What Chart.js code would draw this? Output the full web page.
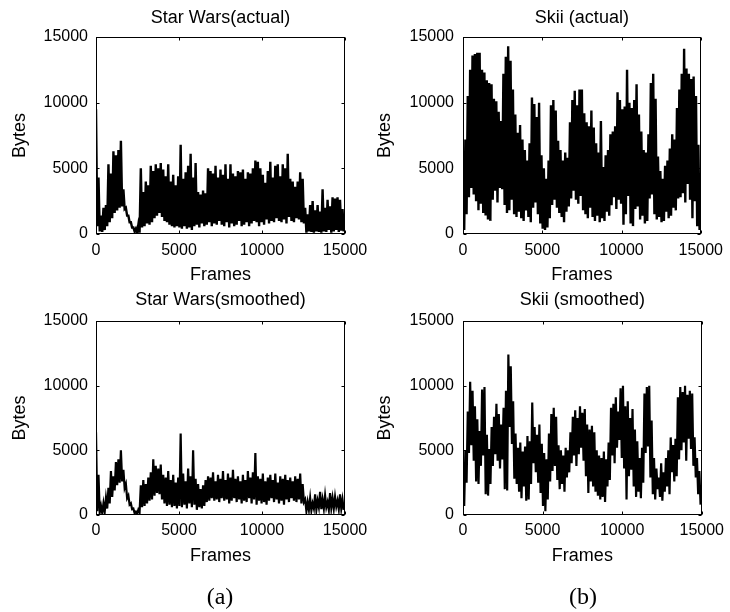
<!DOCTYPE html>
<html><head><meta charset="utf-8">
<script src="https://cdn.jsdelivr.net/npm/chart.js@4"></script>
<style>
html,body{margin:0;padding:0;background:#fff;}
#wrap{position:relative;width:730px;height:612px;overflow:hidden;background:#fff;}
canvas{position:absolute;}
.lab{position:absolute;font-family:"Liberation Serif","Times New Roman",serif;font-size:24px;color:#000;transform:translate(-50%,-50%);white-space:nowrap;}
</style></head><body>
<div id="wrap">
<canvas id="c1" width="390" height="290" style="left:0;top:0;width:390px;height:290px"></canvas>
<canvas id="c2" width="365" height="290" style="left:365px;top:0;width:365px;height:290px"></canvas>
<canvas id="c3" width="390" height="330" style="left:0;top:282px;width:390px;height:330px"></canvas>
<canvas id="c4" width="365" height="330" style="left:365px;top:282px;width:365px;height:330px"></canvas>
<div class="lab" style="left:220px;top:596px">(a)</div>
<div class="lab" style="left:583px;top:596px">(b)</div>
</div>
<script>
// Frame bins (start frame of each bin) shared by all panels
const binFrames = [0,150,300,450,600,750,900,1050,1200,1350,1500,1650,1800,1950,2100,2250,2400,2550,2700,2850,
3000,3150,3300,3450,3600,3750,3900,4050,4200,4350,4500,4650,4800,4950,5100,5250,5400,5550,5700,5850,
6000,6150,6300,6450,6600,6750,6900,7050,7200,7350,7500,7650,7800,7950,8100,8250,8400,8550,8700,8850,
9000,9150,9300,9450,9600,9750,9900,10050,10200,10350,10500,10650,10800,10950,11100,11250,11400,11550,11700,11850,
12000,12150,12300,12450,12600,12750,12900,13050,13200,13350,13500,13650,13800,13950,14100,14250,14400,14550,14700,14850];
const halfBin = 75;

const xTicks = [0, 5000, 10000, 15000];
const yTicks = [0, 5000, 10000, 15000];

// Star Wars (actual): per-bin high / low bytes
const starWarsActualHigh = [9500,4300,1400,2000,2200,5300,4600,6300,6000,6400,
7100,3400,2000,1400,900,500,400,700,5000,3200,
4000,3700,5200,4800,5300,5000,5400,4900,4400,5300,
4000,4500,3700,4400,6800,4200,4700,5200,6100,4300,
5400,3200,3000,3300,3100,5000,4800,4600,5200,4300,
4900,4500,5300,4200,5300,4600,4400,4800,4700,4900,
4200,4700,4600,5000,5600,5500,5000,4500,3900,4800,
5500,4300,5200,5300,4400,5300,5000,6100,4200,4000,
3600,4000,4700,4200,2000,1500,2200,2500,1800,2200,
1700,3400,2000,2600,2100,2800,2700,2800,2600,1900];
const starWarsActualLow = [600,200,150,300,600,900,1200,1600,1800,2000,
2100,1900,1400,900,500,200,50,100,500,600,
800,700,900,1200,1400,1600,1300,1000,900,700,
600,500,600,500,400,600,400,500,300,600,
700,500,800,600,700,900,600,800,700,1000,
700,600,900,500,800,600,700,1000,600,700,
900,600,800,1000,900,600,900,700,1100,800,
1000,900,1200,1000,900,1100,800,1300,1000,900,
1200,1100,900,800,100,200,150,100,200,150,
100,200,150,300,100,200,300,150,250,200];

// Skii (actual)
const skiiActualHigh = [6200,7200,10500,12500,13600,13700,13800,13800,12500,12300,
11700,11500,11400,10300,10100,9300,8600,12200,13500,14300,
13200,11000,9100,7700,8300,7200,6400,5600,6900,10400,
9900,8900,10000,6000,5000,4200,5600,9800,10200,9400,
7100,6400,5600,6200,5800,8500,10200,10900,9800,11000,
11000,9200,8500,8200,9400,8100,6900,6200,8600,5100,
6000,6400,7600,7800,8200,10800,10200,9500,9700,12500,
10000,9600,10200,11400,9100,7800,6400,6200,7600,11500,
12200,10300,5900,4800,4200,5200,5600,6500,7600,7200,
9600,11000,12200,14100,12600,12200,11800,12000,10500,6800];
const skiiActualLow = [300,1500,2800,3500,3000,2500,1800,2300,1600,1400,
1100,1000,2600,3300,2400,3500,3400,2200,1600,1800,
2600,1500,1300,1700,1200,1000,1800,1300,900,2000,
2400,1500,800,400,300,500,1200,2200,2600,2000,
1600,1300,900,1700,2100,2700,3300,2600,2300,2900,
1800,1500,1200,2000,1300,1000,1400,900,1200,1000,
1700,1400,2200,2800,1900,2600,2300,700,1500,2900,
800,600,1900,2100,1100,1400,800,1000,2700,3000,
1500,1100,1300,900,1000,1700,1200,1400,2000,1800,
2700,2800,3100,2400,3800,2600,1200,2500,600,300];

// Star Wars (smoothed)
const starWarsSmoothHigh = [6400,3100,700,900,1300,2100,3400,3000,4100,4300,
5000,3500,2400,1500,900,500,250,400,2300,2700,
2400,2900,3300,4300,3800,3600,3900,3100,2900,3400,
2700,3100,2500,2900,6300,3200,2600,3600,3000,5000,
2800,2400,2000,2300,2700,3000,2900,3300,2600,3100,
2800,3400,2700,3200,2900,3500,2800,3000,2600,3100,
2700,3400,2900,3300,4800,3000,2800,3200,2600,2900,
3100,2700,3200,2500,3000,2800,3100,2700,2900,2600,
3000,2800,3200,2400,1200,1000,1300,900,1600,1100,
1800,1200,1500,1000,1700,1300,1400,1100,1600,1200];
const starWarsSmoothLow = [300,200,150,250,500,900,1400,1900,2300,2500,
2600,2100,1300,800,450,150,50,200,600,700,
900,1100,1200,1500,1700,1600,1200,900,700,800,
600,700,500,700,600,800,500,900,600,800,
400,600,500,700,1000,1100,1300,1100,1200,1000,
1300,1100,1200,900,1100,1300,1000,1200,900,1100,
1000,1300,900,1200,800,1100,900,1000,800,1100,
1300,1000,1200,900,1100,800,1200,1000,1300,1100,
1000,1200,900,1000,300,400,350,500,400,600,
450,500,600,400,550,500,650,450,500,400];

// Skii (smoothed)
const skiiSmoothHigh = [2900,5000,8000,10300,9600,8400,7400,6500,9700,9900,
6200,5100,6800,7600,8600,7800,7000,8300,9600,12400,
11500,8800,6300,5200,5600,4900,5300,6100,5700,8700,
6800,6200,7000,5500,4800,4300,6300,7800,8300,7600,
5400,5000,4600,5200,5000,6400,7600,8100,7500,8400,
7900,8200,7000,6600,6900,6400,5000,4600,4400,4900,
4300,5600,8300,8600,9100,8000,9800,10000,8400,8800,
7500,8200,6600,5700,4400,5200,9400,9900,10000,7300,
4400,3600,2900,4000,3300,4400,5000,6000,5400,5900,
9100,9900,9500,10000,9300,9600,9400,6000,4400,3400];
const skiiSmoothLow = [700,2500,4800,5400,4200,2600,2400,3800,4600,1600,
1500,2400,3800,4700,4200,3600,4300,2000,1900,6800,
5500,2800,2400,1800,1300,2200,1100,1200,2400,4000,
3300,2500,1700,700,300,1200,2600,3400,3800,2700,
2000,2400,1800,2900,3300,4000,4600,3800,4700,5200,
4200,3000,1700,2600,2200,1800,1500,1200,1400,1000,
2200,2700,4600,4000,5200,5800,4400,3600,1200,3000,
3500,2200,1400,1800,1300,2500,4800,5300,2900,1600,
1200,2000,1400,1100,1800,2200,1600,3300,2600,3000,
4300,5000,5600,4200,5900,5100,3800,2900,1600,800];

const FONT = '"Liberation Sans", Arial, Helvetica, sans-serif';

const framePlugin = {
  id: 'frame',
  afterDraw(chart) {
    const {ctx, chartArea: a, scales: {x, y}} = chart;
    const L = Math.round(a.left) + 0.5, R = Math.round(a.right) - 0.5;
    const T = Math.round(a.top) + 0.5, B = Math.round(a.bottom) - 0.5;
    ctx.save();
    ctx.strokeStyle = '#000';
    ctx.lineWidth = 1;
    ctx.strokeRect(L, T, R - L, B - T);
    const tl = 3;
    ctx.beginPath();
    xTicks.forEach(v => {
      const p = Math.round(x.getPixelForValue(v)) + 0.5;
      ctx.moveTo(p, B); ctx.lineTo(p, B - tl);
      ctx.moveTo(p, T); ctx.lineTo(p, T + tl);
    });
    yTicks.forEach(v => {
      const p = Math.round(y.getPixelForValue(v)) + 0.5;
      ctx.moveTo(L, p); ctx.lineTo(L + tl, p);
      ctx.moveTo(R, p); ctx.lineTo(R - tl, p);
    });
    ctx.stroke();
    ctx.restore();
  }
};

function makeChart(id, title, hi, lo, lay) {
  const pts = [];
  for (let i = 0; i < binFrames.length; i++) {
    pts.push({x: binFrames[i], y: hi[i]});
    pts.push({x: binFrames[i] + halfBin, y: lo[i]});
  }
  new Chart(document.getElementById(id), {
    type: 'line',
    data: {datasets: [{data: pts, borderColor: '#000', borderWidth: lay.lw, pointRadius: 0, fill: false, tension: 0,
      borderJoinStyle: 'miter', borderCapStyle: 'butt'}]},
    options: {
      responsive: false, animation: false, devicePixelRatio: 1,
      layout: {padding: {left: 0, top: 0, right: lay.padR, bottom: lay.padB}},
      plugins: {
        legend: {display: false}, tooltip: {enabled: false},
        title: {display: true, text: title, fullSize: false, color: '#000',
          font: {family: FONT, size: 18, weight: 'normal', lineHeight: 1.2},
          padding: {top: 7.5, bottom: lay.titlePadB}}
      },
      scales: {
        x: {type: 'linear', min: 0, max: 15000,
          afterFit: s => { s.height = 52; },
          afterBuildTicks: s => { s.ticks = xTicks.map(v => ({value: v})); },
          grid: {display: false, drawTicks: false}, border: {display: false},
          ticks: {autoSkip: false, maxRotation: 0, padding: lay.xTickPad, color: '#000',
            font: {family: FONT, size: 16, lineHeight: 1.2}, callback: v => String(v)},
          title: {display: true, text: 'Frames', color: '#000',
            font: {family: FONT, size: 18, lineHeight: 1.2}, padding: {top: 0, bottom: 0.2}}},
        y: {type: 'linear', min: 0, max: 15000,
          afterFit: s => { s.width = lay.yW; },
          afterBuildTicks: s => { s.ticks = yTicks.map(v => ({value: v})); },
          grid: {display: false, drawTicks: false}, border: {display: false},
          ticks: {padding: lay.yTickPad, color: '#000',
            font: {family: FONT, size: 16, lineHeight: 1.2}, callback: v => String(v)},
          title: {display: true, text: 'Bytes', color: '#000',
            font: {family: FONT, size: 18, lineHeight: 1.2}, padding: {top: 9.2, bottom: 0}}}
      }
    },
    plugins: [framePlugin]
  });
}

makeChart('c1', 'Star Wars(actual)', starWarsActualHigh, starWarsActualLow,
  {padR: 45, padB: 4, yW: 96, yTickPad: 8, xTickPad: 7, titlePadB: 7.9, lw: 2.4});
makeChart('c2', 'Skii (actual)', skiiActualHigh, skiiActualLow,
  {padR: 26, padB: 4, yW: 98, yTickPad: 9, xTickPad: 7, titlePadB: 7.9, lw: 2.4});
makeChart('c3', 'Star Wars(smoothed)', starWarsSmoothHigh, starWarsSmoothLow,
  {padR: 45, padB: 45, yW: 96, yTickPad: 8, xTickPad: 6, titlePadB: 9.9, lw: 2.2});
makeChart('c4', 'Skii (smoothed)', skiiSmoothHigh, skiiSmoothLow,
  {padR: 26, padB: 45, yW: 98, yTickPad: 9, xTickPad: 6, titlePadB: 9.9, lw: 2.2});
</script>
</body></html>
